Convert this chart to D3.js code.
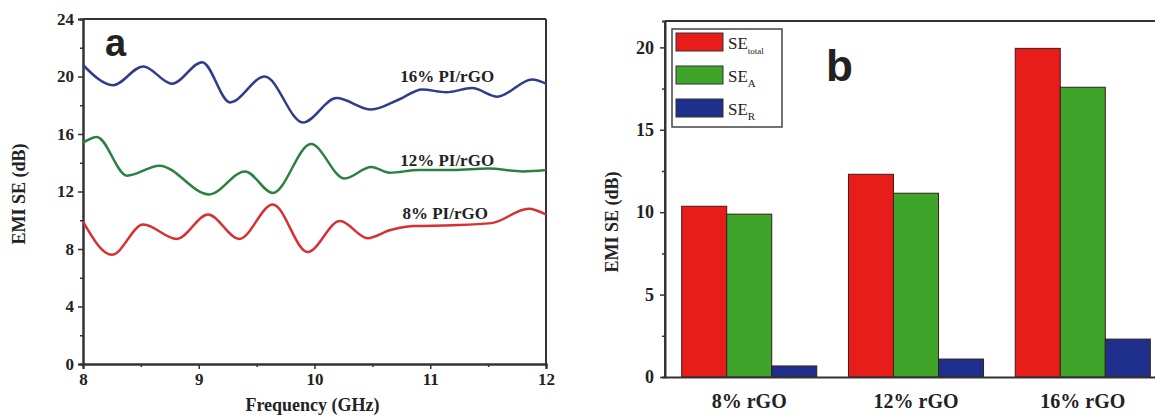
<!DOCTYPE html>
<html>
<head>
<meta charset="utf-8">
<script src="https://cdn.jsdelivr.net/npm/d3@7"></script>
<style>
  body { margin: 0; background: #fff; }
  svg { display: block; }
  text { font-family: "Liberation Serif", "Times New Roman", serif; font-weight: bold; fill: #222; }
</style>
</head>
<body>
<div id="chart"></div>
<script>
// ---- panel a: EMI SE vs frequency ----
const freq16 = [8.0, 8.26, 8.52, 8.77, 9.03, 9.27, 9.57, 9.9, 10.19, 10.49, 10.73, 10.93, 11.14, 11.36, 11.58, 11.88, 12.0];
const se16   = [20.8, 19.4, 20.7, 19.5, 21.0, 18.2, 20.0, 16.8, 18.5, 17.7, 18.4, 19.1, 18.9, 19.2, 18.6, 19.8, 19.5];
const freq12 = [8.0, 8.12, 8.38, 8.66, 9.09, 9.4, 9.64, 9.97, 10.26, 10.49, 10.65, 10.9, 11.2, 11.5, 11.8, 12.0];
const se12   = [15.4, 15.8, 13.1, 13.8, 11.8, 13.4, 11.9, 15.3, 12.9, 13.7, 13.3, 13.5, 13.5, 13.6, 13.4, 13.5];
const freq8  = [8.0, 8.25, 8.52, 8.81, 9.08, 9.35, 9.64, 9.94, 10.22, 10.46, 10.65, 10.85, 11.2, 11.53, 11.85, 12.0];
const se8    = [9.9, 7.6, 9.7, 8.7, 10.4, 8.7, 11.1, 7.8, 9.95, 8.75, 9.3, 9.6, 9.65, 9.8, 10.8, 10.4];
const lineLabels = ["16% PI/rGO", "12% PI/rGO", "8% PI/rGO"];
const labelPos = [[10.74, 19.6], [10.74, 13.8], [10.76, 10.1]];
const xTicksA = [8, 9, 10, 11, 12];
const yTicksA = [0, 4, 8, 12, 16, 20, 24];

// ---- panel b: bars ----
const samples = ["8% rGO", "12% rGO", "16% rGO"];
const seTotal = [10.36, 12.3, 19.94];
const seA     = [9.88, 11.15, 17.58];
const seR     = [0.67, 1.09, 2.3];
const yTicksB = [0, 5, 10, 15, 20];

const W = 1155, H = 417;
const svg = d3.select("#chart").append("svg").attr("width", W).attr("height", H);
const axisColor = "#333";

function styleAxis(g) {
    g.selectAll("path").attr("stroke", axisColor).attr("stroke-width", 2);
    g.selectAll("line").attr("stroke", axisColor).attr("stroke-width", 1.5);
    g.selectAll("text").style("font-size", "17px").attr("fill", "#222");
}

// ===== Panel a =====
const xA = d3.scaleLinear().domain([8, 12]).range([83, 546]);
const yA = d3.scaleLinear().domain([0, 24]).range([364, 19]);

// minor ticks
svg.append("g").attr("transform", "translate(0,364)")
    .call(d3.axisBottom(xA).tickValues(d3.range(8.5, 12, 1)).tickSize(3).tickFormat(""))
    .call(styleAxis);
svg.append("g").attr("transform", "translate(83,0)")
    .call(d3.axisLeft(yA).tickValues(d3.range(2, 24, 4)).tickSize(3).tickFormat(""))
    .call(styleAxis);

svg.append("g").attr("transform", "translate(0,364)")
    .call(d3.axisBottom(xA).tickValues(xTicksA).tickSize(5).tickPadding(4).tickFormat(d3.format("d")))
    .call(styleAxis);
svg.append("g").attr("transform", "translate(83,0)")
    .call(d3.axisLeft(yA).tickValues(yTicksA).tickSize(5).tickPadding(4))
    .call(styleAxis);
// top + right frame
svg.append("line").attr("x1", xA(8)).attr("x2", xA(12)).attr("y1", yA(24)).attr("y2", yA(24))
    .attr("stroke", axisColor).attr("stroke-width", 2);
svg.append("line").attr("x1", xA(12)).attr("x2", xA(12)).attr("y1", yA(24)).attr("y2", yA(0))
    .attr("stroke", axisColor).attr("stroke-width", 2);

const lineGen = d3.line()
    .x(d => xA(d[0])).y(d => yA(d[1]))
    .curve(d3.curveMonotoneX);

const series = [
    { f: freq16, v: se16, color: "#2f3d8c" },
    { f: freq12, v: se12, color: "#2c8040" },
    { f: freq8,  v: se8,  color: "#d83030" }
];
series.forEach((s, i) => {
    svg.append("path")
        .datum(s.f.map((f, j) => [f, s.v[j]]))
        .attr("d", lineGen)
        .attr("fill", "none")
        .attr("stroke", s.color)
        .attr("stroke-width", 2.5);
    svg.append("text")
        .attr("x", xA(labelPos[i][0]))
        .attr("y", yA(labelPos[i][1]))
        .style("font-size", "17px")
        .text(lineLabels[i]);
});

svg.append("text").attr("x", 105).attr("y", 56)
    .style("font-family", "'Liberation Sans', Arial, sans-serif")
    .style("font-size", "38px").text("a");

svg.append("text").attr("x", (xA(8) + xA(12)) / 2 - 2).attr("y", 411)
    .attr("text-anchor", "middle").style("font-size", "18px").text("Frequency (GHz)");
svg.append("text")
    .attr("transform", "translate(25,194) rotate(-90)")
    .attr("text-anchor", "middle").style("font-size", "18px").text("EMI SE (dB)");

// ===== Panel b =====
const yB = d3.scaleLinear().domain([0, 21.6]).range([377, 21]);
const xB = d3.scaleBand().domain(samples).range([665, 1167]).paddingInner(0.19).paddingOuter(0.1);
const keys = ["total", "A", "R"];
const xSub = d3.scaleBand().domain(keys).range([0, xB.bandwidth()]);
const barColors = { total: "#e81c18", A: "#3fa52a", R: "#1f2f8c" };
const barData = { total: seTotal, A: seA, R: seR };

samples.forEach((s, i) => {
    keys.forEach(k => {
        svg.append("rect")
            .attr("x", xB(s) + xSub(k))
            .attr("y", yB(barData[k][i]))
            .attr("width", xSub.bandwidth())
            .attr("height", yB(0) - yB(barData[k][i]))
            .attr("fill", barColors[k])
            .attr("stroke", "#3a1e1a")
            .attr("stroke-width", 1);
    });
});

svg.append("g").attr("transform", "translate(665,0)")
    .call(d3.axisLeft(yB).tickValues(d3.range(2.5, 21, 5)).tickSize(3).tickFormat(""))
    .call(styleAxis);
svg.append("g").attr("transform", "translate(665,0)")
    .call(d3.axisLeft(yB).tickValues(yTicksB).tickSize(5).tickPadding(6))
    .call(g => g.select(".domain").attr("d", "M-0,377V21"))
    .call(styleAxis)
    .call(g => g.selectAll("text").style("font-size", "18px"));
svg.append("g").attr("transform", "translate(0,377)")
    .call(d3.axisBottom(xB).tickSize(0).tickPadding(17))
    .call(styleAxis)
    .call(g => g.selectAll("text").style("font-size", "20px"));
svg.append("line").attr("x1", 665).attr("x2", W).attr("y1", 21).attr("y2", 21)
    .attr("stroke", axisColor).attr("stroke-width", 2);

// legend
const legend = svg.append("g").attr("transform", "translate(672,29)");
legend.append("rect").attr("width", 110).attr("height", 98)
    .attr("fill", "#fff").attr("stroke", "#444").attr("stroke-width", 1.5);
const legendSub = ["total", "A", "R"];
keys.forEach((k, i) => {
    const row = legend.append("g").attr("transform", `translate(4,${4 + i * 33})`);
    row.append("rect").attr("width", 47).attr("height", 18)
        .attr("fill", barColors[k]).attr("stroke", "#333").attr("stroke-width", 1);
    const t = row.append("text").attr("x", 52).attr("y", 16)
        .style("font-size", "17px").style("font-weight", "normal").attr("fill", "#333");
    t.append("tspan").text("SE");
    t.append("tspan").attr("dy", 5)
        .style("font-size", k === "total" ? "9px" : "11px").text(legendSub[i]);
});

svg.append("text").attr("x", 826).attr("y", 81)
    .style("font-family", "'Liberation Sans', Arial, sans-serif")
    .style("font-size", "44px").text("b");

svg.append("text")
    .attr("transform", "translate(618,222) rotate(-90)")
    .attr("text-anchor", "middle").style("font-size", "18px").text("EMI SE (dB)");
</script>
</body>
</html>
